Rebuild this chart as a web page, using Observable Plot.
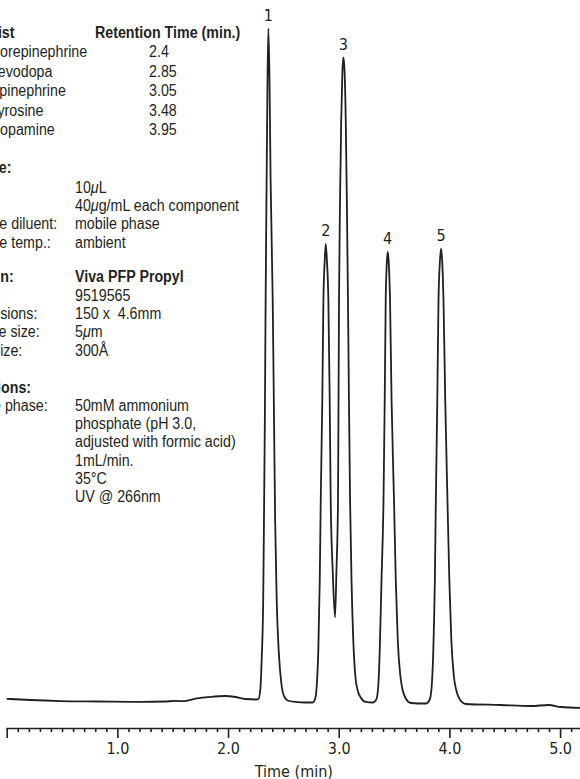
<!DOCTYPE html>
<html>
<head>
<meta charset="utf-8">
<script src="https://cdn.jsdelivr.net/npm/d3@7"></script>
<script src="https://cdn.jsdelivr.net/npm/@observablehq/plot@0.6"></script>
<style>
  html, body { margin: 0; padding: 0; background: #fff; overflow: hidden; }
  #wrap { position: relative; width: 580px; height: 779px; overflow: hidden; }
  #notes { position: absolute; left: 0; top: 0; width: 300px; height: 520px; pointer-events: none;
           font-family: "Liberation Sans", Arial, sans-serif;
           font-size: 16px; color: #231f20; }
  #notes div { position: absolute; white-space: nowrap; line-height: 18px; transform: scaleX(0.89); transform-origin: 0 50%; }
  #notes .b { font-weight: bold; }
</style>
</head>
<body>
<div id="wrap"><div id="notes"></div></div>
<script>
// ---- chromatogram trace (time in min, detector signal in arbitrary units) ----
const times = [0.00,0.21,0.48,0.84,1.21,1.43,1.52,1.59,1.70,1.84,1.97,2.06,2.15,2.25,2.27,
  2.286,2.299,2.313,2.320,2.328,2.335,2.344,2.352,2.360,2.370,2.380,2.399,2.411,2.421,2.435,2.453,2.476,2.499,2.534,2.607,2.697,2.760,2.783,
  2.797,2.811,2.824,2.833,2.847,2.857,2.869,2.878,2.889,2.902,2.914,2.923,2.941,2.962,2.975,2.989,2.998,
  3.007,3.018,3.029,3.038,3.048,3.059,3.069,3.079,3.088,3.098,3.111,3.127,3.145,3.167,3.194,3.240,3.303,3.335,
  3.353,3.366,3.382,3.400,3.411,3.420,3.429,3.438,3.449,3.459,3.473,3.495,3.511,3.529,3.552,3.574,3.601,3.647,3.782,3.818,
  3.836,3.850,3.864,3.873,3.886,3.897,3.909,3.920,3.931,3.942,3.958,3.978,3.995,4.013,4.035,4.058,4.090,4.144,4.460,4.731,4.894,5.003,5.183];
const signal = [0.40,0.22,0.07,0.00,-0.07,0.00,0.08,0.05,0.42,0.70,0.82,0.67,0.37,0.30,0.37,
  1.63,6.1,15.0,26.9,41.8,59.6,77.4,92.3,100,92.3,77.4,59.6,41.8,26.9,15.0,7.6,2.82,0.89,0.15,-0.07,-0.15,-0.15,0.45,
  2.38,7.6,18.0,29.9,44.7,59.6,65.5,68.0,65.5,59.6,44.7,29.9,19.5,12.5,19.5,29.9,59.6,
  74.4,86.3,93.8,95.7,93.8,86.3,74.4,59.6,44.7,29.9,18.0,9.1,3.86,1.63,0.59,-0.07,-0.15,0.30,
  2.38,7.6,18.0,29.9,44.7,59.6,64.8,66.8,64.8,59.6,44.7,29.9,18.0,9.1,3.86,1.63,0.45,-0.22,-0.30,0.30,
  2.38,7.6,18.0,29.9,44.7,59.6,65.2,67.3,65.2,59.6,44.7,29.9,18.0,9.1,3.86,1.63,0.30,-0.37,-0.52,-0.67,-0.52,-0.82,-0.94];

// ---- peak labels ----
const peakNums = ["1","2","3","4","5"];
const peakApexT = [2.360, 2.878, 3.038, 3.438, 3.920];
const peakApexV = [100, 68.0, 95.7, 66.8, 67.3];

// ---- axis ticks ----
const majorTicks = [0, 1, 2, 3, 4, 5];
const minorTicks = [0.1,0.2,0.3,0.4,0.5,0.6,0.7,0.8,0.9,1.1,1.2,1.3,1.4,1.5,1.6,1.7,1.8,1.9,
  2.1,2.2,2.3,2.4,2.5,2.6,2.7,2.8,2.9,3.1,3.2,3.3,3.4,3.5,3.6,3.7,3.8,3.9,
  4.1,4.2,4.3,4.4,4.5,4.6,4.7,4.8,4.9,5.1];

// ---- notes text ----
const peakListHeader = ["Peak List", "Retention Time (min.)"];
const peakNames = ["1. Norepinephrine", "2. Levodopa", "3. Epinephrine", "4. Tyrosine", "5. Dopamine"];
const retentionTimes = ["2.4", "2.85", "3.05", "3.48", "3.95"];
const sampleHeader = "Sample:";
const sampleLabels = ["Inj.:", "Conc.:", "Sample diluent:", "Sample temp.:"];
const sampleValues = ["10<i>μ</i>L", "40<i>μ</i>g/mL each component", "mobile phase", "ambient"];
const columnHeader = ["Column:", "Viva PFP Propyl"];
const columnLabels = ["Cat. #:", "Dimensions:", "Particle size:", "Pore size:"];
const columnValues = ["9519565", "150 x&nbsp; 4.6mm", "5<i>μ</i>m", "300Å"];
const condHeader = "Conditions:";
const condLabels = ["Mobile phase:", "", "", "Flow:", "Temp:", "Det.:"];
const condValues = ["50mM ammonium", "phosphate (pH 3.0,", "adjusted with formic acid)", "1mL/min.", "35°C", "UV @ 266nm"];

const font = '"DejaVu Sans Condensed", "Liberation Sans Narrow", sans-serif';
const ink = "#231f20";

const chart = Plot.plot({
  width: 580,
  height: 779,
  marginLeft: 6.7,
  marginRight: 0,
  marginTop: 0,
  marginBottom: 51,
  x: {domain: [0, 5.18]},
  y: {domain: [0, 100], range: [701, 28], axis: null},
  style: {fontFamily: font, fontSize: "16px", color: ink, background: "white"},
  marks: [
    Plot.line(times.map((t, i) => ({t, v: signal[i]})), {x: "t", y: "v", curve: "monotone-x", stroke: ink, strokeWidth: 1.8}),
    Plot.text(peakNums, {x: (d, i) => peakApexT[i], y: (d, i) => peakApexV[i], text: d => d, dy: -13, fontSize: 16, fill: ink}),
    Plot.axisX(minorTicks, {tickSize: 4, tickFormat: () => "", strokeWidth: 1.6, label: null, stroke: ink}),
    Plot.axisX(majorTicks, {tickSize: 10, tickPadding: 4, strokeWidth: 1.6, stroke: ink, fill: ink,
      tickFormat: d => d === 0 ? "" : d.toFixed(1),
      label: "Time (min)", labelAnchor: "center", labelArrow: "none", labelOffset: 48}),
    Plot.frame({anchor: "bottom", stroke: ink, strokeWidth: 1.6})
  ]
});
document.getElementById("wrap").prepend(chart);

// notes layout
const notes = document.getElementById("notes");
function line(html, left, cy, bold) {
  const d = document.createElement("div");
  d.innerHTML = html;
  d.style.left = left + "px";
  d.style.top = (cy - 9) + "px";
  if (bold) d.className = "b";
  notes.appendChild(d);
}
const LABEL = -41, VALUE = 75;
line(peakListHeader[0], -48, 33, true);
line(peakListHeader[1], 95, 33, true);
peakNames.forEach((n, i) => { line(n, -26, 52 + i * 19.5, false); line(retentionTimes[i], 149, 52 + i * 19.5, false); });
line(sampleHeader, -44, 168, true);
sampleLabels.forEach((l, i) => { line(l, LABEL, 188 + i * 18.2, false); line(sampleValues[i], VALUE, 188 + i * 18.2, false); });
line(columnHeader[0], -44, 277, true);
line(columnHeader[1], VALUE, 277, true);
columnLabels.forEach((l, i) => { line(l, LABEL, 296 + i * 18.2, false); line(columnValues[i], VALUE, 296 + i * 18.2, false); });
line(condHeader, -48, 388, true);
condLabels.forEach((l, i) => { line(l, LABEL, 406 + i * 18.2, false); line(condValues[i], VALUE, 406 + i * 18.2, false); });
</script>
</body>
</html>
